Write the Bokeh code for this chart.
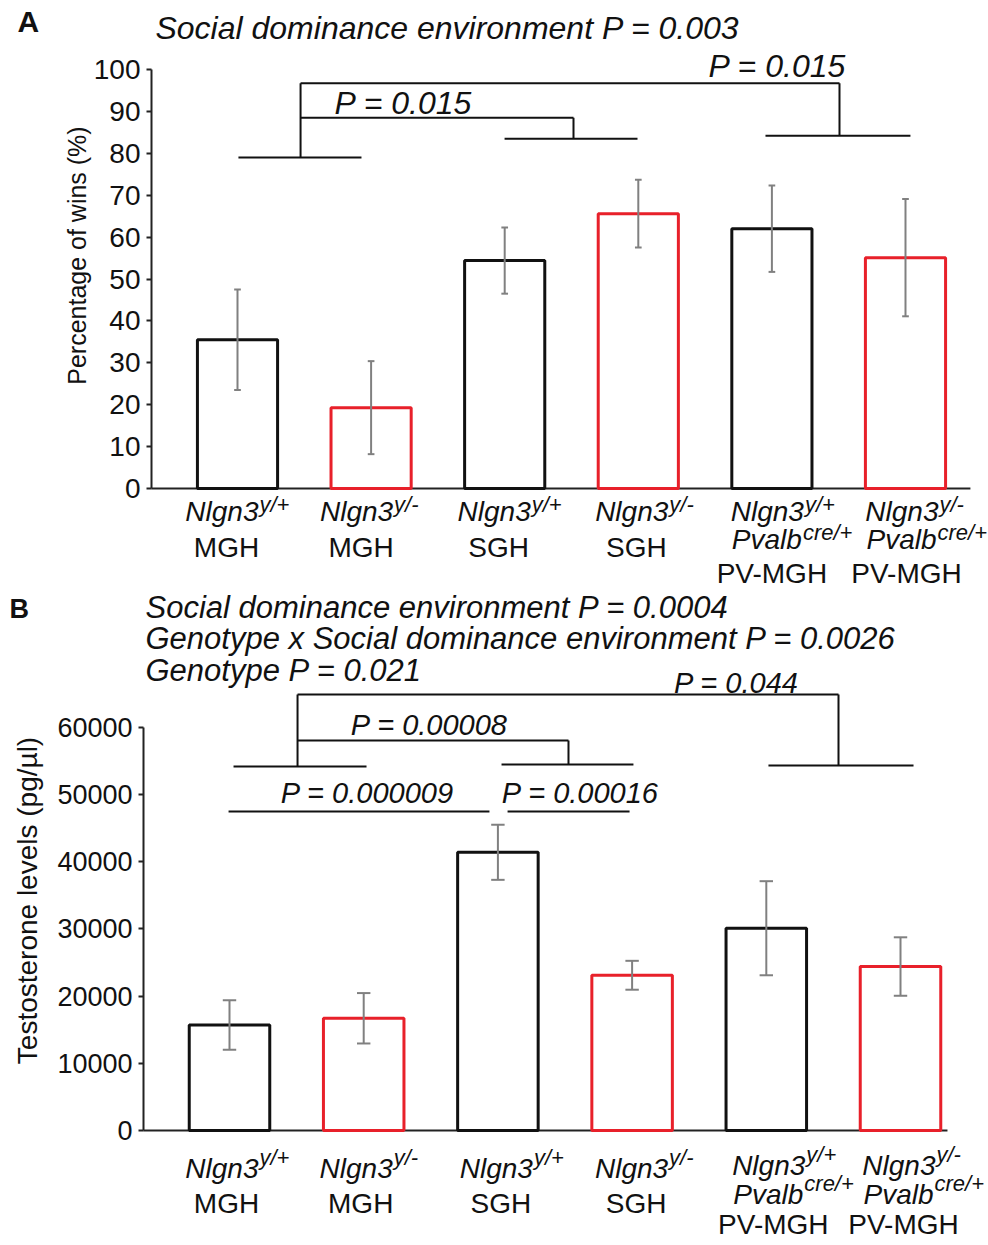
import math
from bokeh.plotting import figure
from bokeh.layouts import column
from bokeh.models import ColumnDataSource, FixedTicker
from bokeh.core.properties import value
from bokeh.embed import file_html
from bokeh.resources import INLINE

# ---------------- data ----------------
gene = ["Nlgn3", "Nlgn3", "Nlgn3", "Nlgn3", "Nlgn3", "Nlgn3"]
genotype = ["y/+", "y/-", "y/+", "y/-", "y/+", "y/-"]
pvalb_cre = ["", "", "", "", "cre/+", "cre/+"]
housing = ["MGH", "MGH", "SGH", "SGH", "PV-MGH", "PV-MGH"]

wins_pct = [35.5, 19.3, 54.4, 65.6, 62.0, 55.1]
wins_sem = [12.0, 11.1, 7.9, 8.1, 10.3, 14.0]

testosterone = [15700, 16700, 41400, 23100, 30100, 24400]
testosterone_sem = [3700, 3750, 4100, 2150, 7000, 4350]

ticks_a = [0, 10, 20, 30, 40, 50, 60, 70, 80, 90, 100]
ticks_b = [0, 10000, 20000, 30000, 40000, 50000, 60000]

title_a = ["Social dominance environment P = 0.003"]
title_b = ["Social dominance environment P = 0.0004",
           "Genotype x Social dominance environment P = 0.0026",
           "Genotype P = 0.021"]

BLACK = "#111111"
RED = "#e8202a"
GREY = "#808080"
FONT = "Liberation Sans"

idx = list(range(len(gene)))
bar_colors = [BLACK if g.endswith("+") else RED for g in genotype]


def make_panel(width, height, xr, yr, axis_x, ticks, tick_size, values, errs, cap,
               base_end, lab_off, lines, sup_dy, brackets, pvals, pval_size, titles,
               title_size, ylabel, ylabel_pos, ylabel_size, letter, letter_pos, letter_size):
    p = figure(width=width, height=height, x_range=xr, y_range=yr,
               output_backend="svg", toolbar_location=None,
               x_axis_location=None, y_axis_location="left",
               min_border_left=0, min_border_right=0,
               min_border_top=0, min_border_bottom=0)
    p.outline_line_color = None
    p.grid.visible = False
    p.background_fill_color = "white"
    p.border_fill_color = "white"

    ax = p.yaxis[0]
    ax.fixed_location = axis_x
    ax.ticker = FixedTicker(ticks=ticks)
    ax.bounds = (ticks[0], ticks[-1])
    ax.axis_line_width = 2
    ax.axis_line_color = "#222222"
    ax.major_tick_out = 5
    ax.major_tick_in = 0
    ax.major_tick_line_width = 2
    ax.major_tick_line_color = "#222222"
    ax.minor_tick_line_color = None
    ax.major_label_text_font = FONT
    ax.major_label_text_font_size = tick_size
    ax.major_label_text_color = BLACK
    ax.major_label_standoff = 6

    # baseline (x axis line)
    p.segment(x0=[axis_x], y0=[0], x1=[base_end], y1=[0],
              line_color="#222222", line_width=2)

    src = ColumnDataSource(dict(
        x=idx, top=values,
        lo=[v - e for v, e in zip(values, errs)],
        hi=[v + e for v, e in zip(values, errs)],
        cl=[i - cap for i in idx], cr=[i + cap for i in idx],
        color=bar_colors))
    p.vbar(x="x", top="top", bottom=0, width=0.6, fill_color="white",
           line_color="color", line_width=3, source=src)
    p.segment(x0="x", y0="lo", x1="x", y1="hi", line_color=GREY, line_width=2, source=src)
    p.segment(x0="cl", y0="hi", x1="cr", y1="hi", line_color=GREY, line_width=2, source=src)
    p.segment(x0="cl", y0="lo", x1="cr", y1="lo", line_color=GREY, line_width=2, source=src)

    # significance brackets
    bx0, by0, bx1, by1 = zip(*brackets)
    p.segment(x0=list(bx0), y0=list(by0), x1=list(bx1), y1=list(by1),
              line_color=BLACK, line_width=2)
    px_, py_, pt_ = zip(*pvals)
    p.text(x=list(px_), y=list(py_), text=list(pt_), text_font=value(FONT),
           text_font_style="italic", text_font_size=pval_size, text_color=BLACK,
           text_align="center", text_baseline="middle")

    # titles
    tx, tys = titles
    p.text(x=[tx] * len(tys), y=[t[1] for t in tys], text=[t[0] for t in tys],
           text_font=value(FONT), text_font_style="italic", text_font_size=title_size,
           text_color=BLACK, text_align="left", text_baseline="middle")

    # category labels (y values are centres of the text rows)
    L1_plain, L1_cre, L2, Lh, L3 = lines
    s1 = ColumnDataSource(dict(x=idx, y=[L1_cre if pvalb_cre[i] else L1_plain for i in idx],
                               xo=lab_off, xs=[o + 1 for o in lab_off],
                               g=gene, sup=genotype))
    p.text(x="x", y="y", x_offset="xo", text="g", source=s1, text_font=value(FONT),
           text_font_style="italic", text_font_size="28px", text_color=BLACK,
           text_align="right", text_baseline="middle")
    p.text(x="x", y="y", x_offset="xs", y_offset=sup_dy[0], text="sup", source=s1,
           text_font=value(FONT), text_font_style="italic", text_font_size="22px",
           text_color=BLACK, text_align="left", text_baseline="middle")
    ci = [i for i in idx if pvalb_cre[i]]
    s2 = ColumnDataSource(dict(x=ci, y=[L2] * len(ci), xo=[lab_off[i] - 2 for i in ci],
                               xs=[lab_off[i] - 1 for i in ci], g=["Pvalb"] * len(ci),
                               sup=[pvalb_cre[i] for i in ci]))
    p.text(x="x", y="y", x_offset="xo", text="g", source=s2, text_font=value(FONT),
           text_font_style="italic", text_font_size="28px", text_color=BLACK,
           text_align="right", text_baseline="middle")
    p.text(x="x", y="y", x_offset="xs", y_offset=sup_dy[1], text="sup", source=s2,
           text_font=value(FONT), text_font_style="italic", text_font_size="22px",
           text_color=BLACK, text_align="left", text_baseline="middle")
    s3 = ColumnDataSource(dict(x=idx, y=[L3 if pvalb_cre[i] else Lh for i in idx],
                               xo=[o - 32 for o in lab_off], h=housing))
    p.text(x="x", y="y", x_offset="xo", text="h", source=s3, text_font=value(FONT),
           text_font_size="28px", text_color=BLACK, text_align="center",
           text_baseline="middle")

    # y-axis title and panel letter
    p.text(x=[ylabel_pos[0]], y=[ylabel_pos[1]], text=[ylabel], angle=math.pi / 2,
           text_align="center", text_baseline="middle", text_font=value(FONT),
           text_font_size=ylabel_size, text_color=BLACK)
    p.text(x=[letter_pos[0]], y=[letter_pos[1]], text=[letter], text_align="left",
           text_baseline="middle", text_font=value(FONT), text_font_style="bold",
           text_font_size=letter_size, text_color=BLACK)
    return p


# ---------------- panel A layout ----------------
pa = make_panel(
    width=988, height=590,
    xr=(-1.7740, 5.6213), yr=(-24.34, 116.47), axis_x=-0.6437,
    ticks=ticks_a, tick_size="28px", values=wins_pct, errs=wins_sem, cap=0.025,
    base_end=5.486, lab_off=[21, 22, 26, 30, 32, 33],
    lines=(-5.49, -5.37, -12.17, -14.08, -20.17), sup_dy=(-7, -7),
    brackets=[(0.007, 79.0, 0.928, 79.0), (0.472, 79.0, 0.472, 96.7),
              (0.472, 88.5, 2.515, 88.5), (2.515, 88.5, 2.515, 83.5),
              (1.999, 83.5, 2.994, 83.5), (0.472, 96.7, 4.506, 96.7),
              (4.506, 96.7, 4.506, 84.2), (3.952, 84.2, 5.037, 84.2)],
    pvals=[(1.243, 92.1, "P = 0.015"), (4.042, 100.95, "P = 0.015")], pval_size="32px",
    titles=(-0.614, [(title_a[0], 110.0)]), title_size="32px",
    ylabel="Percentage of wins (%)", ylabel_pos=(-1.205, 55.6), ylabel_size="25px",
    letter="A", letter_pos=(-1.646, 111.5), letter_size="30px")

# ---------------- panel B layout ----------------
pb = make_panel(
    width=988, height=655,
    xr=(-1.7064, 5.6557), yr=(-17113, 80357), axis_x=-0.6408,
    ticks=ticks_b, tick_size="27px", values=testosterone, errs=testosterone_sem, cap=0.05,
    base_end=5.35, lab_off=[29, 29, 35, 36, 39, 35],
    lines=(-5655, -5134, -9524, -10863, -13988), sup_dy=(-11, -11),
    brackets=[(0.030, 54167, 1.021, 54167), (0.507, 54167, 0.507, 64881),
              (0.507, 58036, 2.526, 58036), (2.526, 58036, 2.526, 54464),
              (2.027, 54464, 3.010, 54464), (0.507, 64881, 4.538, 64881),
              (4.538, 64881, 4.538, 54315), (4.016, 54315, 5.097, 54315),
              (-0.007, 47470, 1.937, 47470), (2.072, 47470, 2.981, 47470)],
    pvals=[(1.490, 60268, "P = 0.00008"), (1.028, 50149, "P = 0.000009"),
           (2.615, 50149, "P = 0.00016"), (3.778, 66518, "P = 0.044")], pval_size="29px",
    titles=(-0.626, [(title_b[0], 77827), (title_b[1], 73214), (title_b[2], 68452)]),
    title_size="31px",
    ylabel="Testosterone levels (pg/µl)", ylabel_pos=(-1.505, 34226), ylabel_size="28px",
    letter="B", letter_pos=(-1.640, 77530), letter_size="27px")

layout = column(pa, pb)
open("out.html", "w").write(file_html(layout, INLINE))
